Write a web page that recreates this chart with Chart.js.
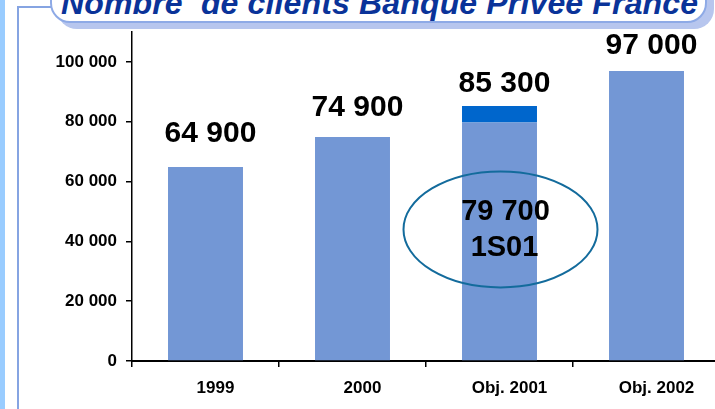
<!DOCTYPE html>
<html lang="fr">
<head>
    <meta charset="UTF-8">
    <title>Nombre de clients Banque Privée France</title>
    <script src="https://cdn.jsdelivr.net/npm/chart.js"></script>
    <style>
        html, body { margin: 0; padding: 0; background: #fff; }
        .page { position: relative; width: 715px; height: 409px; overflow: hidden; font-family: "Liberation Sans", Arial, sans-serif; }
        .strip { position: absolute; left: 0; top: 0; width: 5px; height: 409px; background: #99ccff; }
        .frame { position: absolute; left: 17px; top: 6px; width: 60px; height: 420px; border-left: 2px solid #86a4e2; border-top: 2px solid #86a4e2; }
        .title-box { position: absolute; left: 50px; top: -40px; width: 653px; height: 59px; background: #fff;
                     border: 2px solid #8eaae6; border-radius: 0 0 20px 20px; box-shadow: 7px 6px 0 #b7c6ee; }
        .title { position: absolute; left: 61px; top: -13px; margin: 0; white-space: pre; font-size: 32px; line-height: 32px; font-weight: bold; font-style: italic; color: #0a3399; letter-spacing: 0.15px; }
        #chart { position: absolute; left: 0; top: 0; }
    </style>
</head>
<body>
<div class="page">
    <div class="strip"></div>
    <div class="frame"></div>
    <div class="title-box"></div>
    <h1 class="title">Nombre  de clients Banque Privée France</h1>
    <canvas id="chart" width="720" height="409"></canvas>
</div>

<script>
    // chart data
    const categories = ['1999', '2000', 'Obj. 2001', 'Obj. 2002'];
    const totals = [64900, 74900, 85300, 97000];
    const realised = [64900, 74900, 79700, 97000];   // 2001: 1er semestre
    const yTicks = [0, 20000, 40000, 60000, 80000, 100000];
    const halfYearLabel = '1S01';

    // label placement (style only)
    const labelDx = 5;
    const labelDy = [-33, -29, -22, -25];

    const fmt = v => String(v).replace(/\B(?=(\d{3})+(?!\d))/g, ' ');
    const remainder = totals.map((t, i) => t - realised[i]);

    const labelsPlugin = {
        id: 'valueLabels',
        afterDatasetsDraw(chart) {
            const ctx = chart.ctx;
            const y = chart.scales.y;
            const meta = chart.getDatasetMeta(0);
            ctx.save();
            ctx.fillStyle = '#000';
            ctx.font = 'bold 30px "Liberation Sans", Arial, sans-serif';
            ctx.textAlign = 'center';
            ctx.textBaseline = 'middle';
            totals.forEach((v, i) => {
                const x = meta.data[i].x;
                ctx.fillText(fmt(v), x + labelDx, y.getPixelForValue(v) + labelDy[i]);
            });

            // ellipse on the 2001 bar
            const bx = meta.data[2].x;
            const cy = y.getPixelForValue(44000);
            ctx.strokeStyle = '#136b9c';
            ctx.lineWidth = 2;
            ctx.beginPath();
            ctx.ellipse(bx + 1, cy, 97, 58, 0, 0, Math.PI * 2);
            ctx.stroke();
            ctx.font = 'bold 29px "Liberation Sans", Arial, sans-serif';
            ctx.fillText(fmt(realised[2]), bx + 6, cy - 17);
            ctx.fillText(halfYearLabel, bx + 5, cy + 19);
            ctx.restore();
        }
    };

    const ctx = document.getElementById('chart').getContext('2d');
    const chart = new Chart(ctx, {
        type: 'bar',
        data: {
            labels: categories,
            datasets: [{
                label: 'Réalisé',
                data: realised,
                backgroundColor: '#7397d5'
            }, {
                label: 'Objectif',
                data: remainder,
                backgroundColor: '#0066cc'
            }]
        },
        options: {
            responsive: false,
            animation: false,
            devicePixelRatio: 1,
            categoryPercentage: 1,
            barPercentage: 0.51,
            layout: { padding: { top: 32, right: 0, left: 0, bottom: 0 } },
            plugins: {
                legend: { display: false },
                tooltip: { enabled: false }
            },
            scales: {
                x: {
                    stacked: true,
                    afterFit: s => { s.height = 48; },
                    grid: { drawOnChartArea: false, tickLength: 6, color: '#000', lineWidth: 1.5, offset: true },
                    border: { color: '#000', width: 2 },
                    ticks: {
                        color: '#000',
                        padding: 11,
                        labelOffset: 10,
                        font: { family: '"Liberation Sans", Arial, sans-serif', size: 17, weight: 'bold' }
                    }
                },
                y: {
                    stacked: true,
                    min: 0,
                    max: 110000,
                    afterFit: s => { s.width = 132; },
                    afterBuildTicks: s => { s.ticks = yTicks.map(v => ({ value: v })); },
                    grid: { drawOnChartArea: false, tickLength: 6, color: '#000', lineWidth: 1.5 },
                    border: { color: '#000', width: 1.5 },
                    ticks: {
                        color: '#000',
                        padding: 9,
                        callback: v => fmt(v),
                        font: { family: '"Liberation Sans", Arial, sans-serif', size: 17, weight: 'bold' }
                    }
                }
            }
        },
        plugins: [labelsPlugin]
    });
</script>
</body>
</html>
